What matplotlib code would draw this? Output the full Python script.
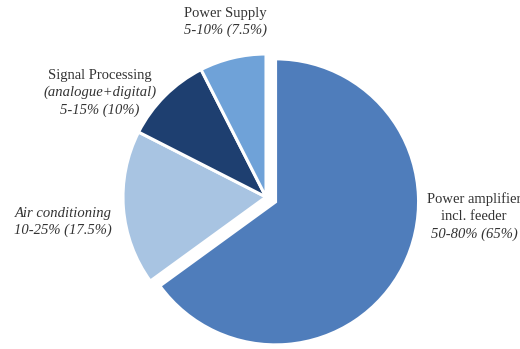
import matplotlib.pyplot as plt

# shares of energy consumption (central value of range)
categorias = ["Power amplifier incl. feeder", "Air conditioning",
              "Signal Processing", "Power Supply"]
valores = [65, 17.5, 10, 7.5]
cores = ["#4f7dbb", "#a8c4e2", "#1e3f70", "#6fa2d8"]

# label lines: (text, italic)
rotulos = [
    [("Power amplifier", False), ("incl. feeder", False), ("50-80% (65%)", True)],
    [("Air conditioning", True), ("10-25% (17.5%)", True)],
    [("Signal Processing", False), ("(analogue+digital)", True), ("5-15% (10%)", True)],
    [("Power Supply", False), ("5-10% (7.5%)", True)],
]
# label anchor (pixels, top line) and line spacing
pos_rotulos = [(474, 199), (63, 213), (100, 75), (225, 13)]
passo = 17.5

W, H = 520, 349
fig = plt.figure(figsize=(W / 100, H / 100), dpi=100)
ax = fig.add_axes([0, 0, 1, 1])

cx, cy, r = 266, H - 197, 143
# explode in data units here (pie adds it without scaling by radius)
explode = [0.075 * r, 0, 0, 0]
ax.pie(valores, colors=cores, explode=explode, startangle=90,
       counterclock=False, center=(cx, cy), radius=r, frame=True,
       wedgeprops=dict(edgecolor="white", linewidth=2.2))
ax.set_xlim(0, W)
ax.set_ylim(0, H)
ax.set_aspect("equal")
ax.axis("off")

for linhas, (x, y) in zip(rotulos, pos_rotulos):
    for i, (txt, it) in enumerate(linhas):
        ax.text(x, H - (y + i * passo), txt, ha="center", va="center",
                fontsize=10.5, family="Liberation Serif", color="#333333",
                style="italic" if it else "normal", clip_on=False)

fig.savefig("out.png", dpi=100)
